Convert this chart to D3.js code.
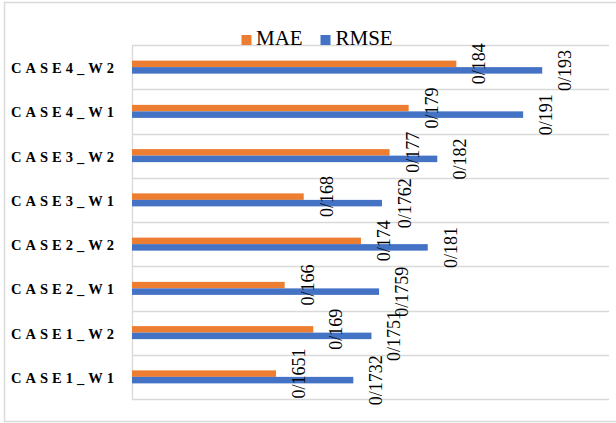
<!DOCTYPE html>
<html>
<head>
<meta charset="utf-8">
<script src="https://cdn.jsdelivr.net/npm/d3@7"></script>
<style>
  html, body { margin: 0; padding: 0; background: #fff; }
  svg { display: block; }
  svg text { font-family: "Liberation Serif", "Times New Roman", Times, "DejaVu Serif", serif; }
</style>
</head>
<body>
<svg id="chart" width="616" height="423"></svg>
<script>
// Error metrics per case / window
const categories = ["CASE1_W1", "CASE1_W2", "CASE2_W1", "CASE2_W2", "CASE3_W1", "CASE3_W2", "CASE4_W1", "CASE4_W2"];
const maeValues  = [0.1651, 0.169, 0.166, 0.174, 0.168, 0.177, 0.179, 0.184];
const rmseValues = [0.1732, 0.1751, 0.1759, 0.181, 0.1762, 0.182, 0.191, 0.193];
const maeLabels  = ["0/1651", "0/169", "0/166", "0/174", "0/168", "0/177", "0/179", "0/184"];
const rmseLabels = ["0/1732", "0/1751", "0/1759", "0/181", "0/1762", "0/182", "0/191", "0/193"];
const seriesNames = ["MAE", "RMSE"];
const seriesColors = ["#ED7D31", "#4472C4"];
const xDomain = [0.15, 0.20];

const series = [
  { name: seriesNames[0], color: seriesColors[0], values: maeValues, labels: maeLabels },
  { name: seriesNames[1], color: seriesColors[1], values: rmseValues, labels: rmseLabels }
];

const svg = d3.select("#chart");
const plot = { left: 132, right: 609, top: 45, bottom: 399 };

// chart frame
svg.append("rect")
  .attr("x", 4.5).attr("y", 2.5)
  .attr("width", 630).attr("height", 419)
  .attr("fill", "#fff")
  .attr("stroke", "#d9d9d9").attr("stroke-width", 1.5);

const x = d3.scaleLinear().domain(xDomain).range([plot.left, plot.right]);

// categories listed bottom-up, gap width 240%
const y = d3.scaleBand()
  .domain(categories.slice().reverse())
  .range([plot.top, plot.bottom])
  .paddingInner(2.4 / 3.4)
  .paddingOuter(1.2 / 3.4);

const inner = d3.scaleBand().domain(seriesNames).range([0, y.bandwidth()]);

// horizontal gridlines at category boundaries
const step = y.step();
const boundaries = d3.range(categories.length + 1).map(i => plot.top + i * step);
svg.append("g").selectAll("line")
  .data(boundaries)
  .join("line")
  .attr("x1", plot.left).attr("x2", plot.right)
  .attr("y1", d => Math.round(d) + 0.5).attr("y2", d => Math.round(d) + 0.5)
  .attr("stroke", "#d9d9d9").attr("stroke-width", 1.3);

// category axis line
svg.append("line")
  .attr("x1", plot.left + 0.5).attr("x2", plot.left + 0.5)
  .attr("y1", plot.top).attr("y2", plot.bottom + 1)
  .attr("stroke", "#d9d9d9").attr("stroke-width", 1.3);

// bars
const groups = svg.append("g").selectAll("g")
  .data(series)
  .join("g")
  .attr("fill", d => d.color);

groups.selectAll("rect")
  .data(s => s.values.map((v, i) => ({ cat: categories[i], v, name: s.name })))
  .join("rect")
  .attr("x", x(xDomain[0]))
  .attr("y", d => y(d.cat) + inner(d.name))
  .attr("width", d => x(d.v) - x(xDomain[0]))
  .attr("height", inner.bandwidth());

// value labels, rotated, just past the bar ends
svg.append("g").selectAll("g")
  .data(series)
  .join("g")
  .selectAll("text")
  .data(s => s.values.map((v, i) => ({ cat: categories[i], v, name: s.name, label: s.labels[i] })))
  .join("text")
  .attr("transform", d => {
    const cx = x(d.v) + 23;
    const cy = y(d.cat) + inner(d.name) + inner.bandwidth() / 2;
    return `translate(${cx},${cy}) rotate(-90)`;
  })
  .attr("text-anchor", "middle")
  .attr("dominant-baseline", "central")
  .attr("font-size", 18)
  .attr("fill", "#000")
  .text(d => d.label);

// category labels
svg.append("g").selectAll("text")
  .data(categories)
  .join("text")
  .attr("x", 11)
  .attr("y", d => y(d) + y.bandwidth() / 2 + 6)
  .attr("textLength", 103)
  .attr("lengthAdjust", "spacing")
  .attr("font-weight", "bold")
  .attr("font-size", 14.5)
  .attr("fill", "#000")
  .text(d => d);

// legend
const legend = svg.append("g");
const legendItems = [
  { name: seriesNames[0], color: seriesColors[0], sx: 241.5, tx: 256 },
  { name: seriesNames[1], color: seriesColors[1], sx: 320.5, tx: 335.5 }
];
legend.selectAll("rect")
  .data(legendItems)
  .join("rect")
  .attr("x", d => d.sx).attr("y", 35)
  .attr("width", 10).attr("height", 10)
  .attr("fill", d => d.color);
legend.selectAll("text")
  .data(legendItems)
  .join("text")
  .attr("x", d => d.tx).attr("y", 45)
  .attr("font-size", 21)
  .attr("fill", "#000")
  .text(d => d.name);
</script>
</body>
</html>
